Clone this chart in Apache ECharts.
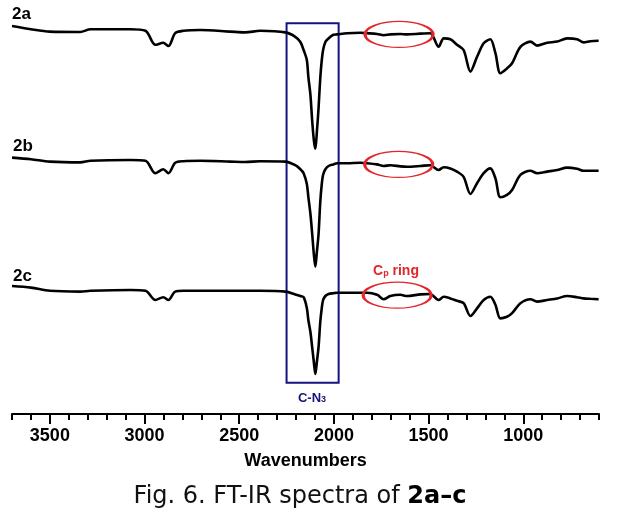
<!DOCTYPE html>
<html>
<head>
<meta charset="utf-8">
<script src="https://cdn.jsdelivr.net/npm/echarts@6/dist/echarts.min.js"></script>
<style>html,body{margin:0;padding:0;background:#fff;}#c{width:620px;height:524px;}</style>
</head>
<body>
<div id="c"></div>
<script>
// Wavenumbers (cm-1) sampled along the spectra
const wn = [3700,3600,3500,3340,3285,3075,2995,2943,2901,2874,2838,2795,2706,2547,2468,2389,2256,2204,2177,2160,2143,2135,2124,2115,2106,2098,2090,2081,2072,2064,2057,2045,2028,2003,1983,1931,1860,1825,1772,1737,1702,1649,1614,1543,1491,1447,1420,1385,1350,1315,1279,1244,1209,1174,1147,1121,1086,1059,1015,962,927,874,821,768,716,681,646,602];
// Offset transmittance (a.u.) for each compound
const spec2a = [97.0,96.2,95.6,95.5,96.2,96.2,95.8,92.3,92.8,92.0,95.2,95.8,96.0,95.6,95.4,95.8,95.4,94.3,93.0,91.0,88.5,84.3,79.8,73.5,68.5,66.3,70.5,76.5,84.0,88.5,91.0,93.0,93.9,94.8,94.9,95.2,95.3,95.2,95.0,94.7,94.9,95.0,94.9,95.1,95.2,91.8,93.9,93.7,92.3,91.0,85.6,89.3,92.7,93.7,90.2,85.2,86.4,87.7,91.8,93.1,92.1,92.8,93.1,93.9,93.7,92.9,93.2,93.3];
const spec2b = [64.1,63.7,63.1,62.9,63.3,63.5,63.3,60.2,61.2,60.2,62.8,63.2,63.3,63.1,63.0,63.2,63.1,62.2,61.2,60.2,57.5,54.3,50.0,45.2,40.0,36.8,40.5,45.0,53.0,57.5,59.8,61.2,62.0,62.4,62.7,62.7,62.8,62.7,62.4,62.0,62.2,61.9,61.8,62.0,62.2,61.0,61.7,61.4,60.6,59.3,55.0,57.7,60.2,61.4,58.9,54.2,54.8,56.0,59.8,60.8,60.2,60.6,61.0,61.6,61.3,60.8,60.8,60.8];
const spec2c = [32.0,31.6,30.8,30.6,30.8,31.0,30.8,28.5,29.2,28.5,30.6,30.8,30.8,30.8,30.8,30.8,30.6,29.9,29.5,29.2,26.5,23.5,20.5,16.8,13.0,10.0,13.0,16.8,23.0,26.5,28.5,29.5,30.0,30.2,30.3,30.3,30.3,30.3,29.8,28.7,29.5,29.8,29.5,29.9,30.0,28.5,29.3,28.9,28.3,27.7,24.5,26.4,28.5,29.3,27.3,23.9,24.3,25.2,27.7,28.7,28.1,28.5,28.9,29.5,29.2,28.9,28.8,28.7];
const seriesNames = ['2a','2b','2c'];
const majorTicks = [3500,3000,2500,2000,1500,1000];
const minorTicks = [3700,3600,3500,3400,3300,3200,3100,3000,2900,2800,2700,2600,2500,2400,2300,2200,2100,2000,1900,1800,1700,1600,1500,1400,1300,1200,1100,1000,900,800,700,600];
// Annotation regions (data units)
const azideBand = [2250, 1975];
const azideBandY = [97.7, 7.8];
const cpRing = [[1656, 94.9],[1658, 62.4],[1666, 29.7]];

const pair = arr => wn.map((w,i)=>[w, arr[i]]);
const chart = echarts.init(document.getElementById('c'), null, {renderer:'canvas'});
const lineStyle = {color:'#000', width:2.6};
const ellipse = (pt) => ({
  symbol:'circle', symbolSize:[68,26], silent:true, label:{show:false},
  itemStyle:{color:'rgba(0,0,0,0)', borderColor:'#e3262b', borderWidth:2},
  data:[{coord:pt}]
});
const mkSeries = (i, arr, extra) => Object.assign({
  name:seriesNames[i], type:'line', data:pair(arr), showSymbol:false, smooth:0.3,
  lineStyle:lineStyle, xAxisIndex:0, markPoint:ellipse(cpRing[i])
}, extra || {});
chart.setOption({
  animation:false,
  grid:{left:12, right:21, top:0, bottom:110, containLabel:false},
  xAxis:[{
    type:'value', inverse:true, min:600, max:3700, position:'bottom',
    axisLine:{show:true, lineStyle:{color:'#000', width:2}},
    axisTick:{show:true, inside:false, length:10, lineStyle:{color:'#000', width:2}, customValues:majorTicks},
    axisLabel:{show:true, customValues:majorTicks, formatter:v=>String(v), margin:13, color:'#000', fontSize:18, fontWeight:'bold', fontFamily:'Liberation Sans, Arial, sans-serif'},
    splitLine:{show:false},
    name:'Wavenumbers', nameLocation:'middle', nameGap:38,
    nameTextStyle:{color:'#000', fontSize:18, fontWeight:'bold', fontFamily:'Liberation Sans, Arial, sans-serif'}
  },{
    type:'value', inverse:true, min:600, max:3700, position:'bottom',
    axisLine:{show:false},
    axisTick:{show:true, length:6, lineStyle:{color:'#000', width:2}, customValues:minorTicks},
    axisLabel:{show:false}, splitLine:{show:false}
  }],
  yAxis:{type:'value', min:0, max:103.5, show:false},
  series:[
    mkSeries(0, spec2a, {markArea:{silent:true, itemStyle:{color:'rgba(0,0,0,0)', borderColor:'#14147f', borderWidth:2},
       data:[[{xAxis:azideBand[0], yAxis:azideBandY[0]},{xAxis:azideBand[1], yAxis:azideBandY[1]}]]}}),
    mkSeries(1, spec2b),
    mkSeries(2, spec2c)
  ],
  graphic:[
    {type:'text', left:12, top:6, style:{text:seriesNames[0], font:'bold 17px "Liberation Sans", Arial', fill:'#000'}},
    {type:'text', left:13, top:138, style:{text:seriesNames[1], font:'bold 17px "Liberation Sans", Arial', fill:'#000'}},
    {type:'text', left:13, top:268, style:{text:seriesNames[2], font:'bold 17px "Liberation Sans", Arial', fill:'#000'}},
    {type:'text', x:312, y:398, style:{text:'{a|C-N}{s|3}', align:'center', verticalAlign:'middle',
      rich:{a:{font:'bold 13px "Liberation Sans", Arial', fill:'#14147f', verticalAlign:'bottom'}, s:{font:'bold 9px "Liberation Sans", Arial', fill:'#14147f', verticalAlign:'bottom'}}}},
    {type:'text', x:396, y:271, style:{text:'{a|C}{s|p}{a| ring}', align:'center', verticalAlign:'middle',
      rich:{a:{font:'bold 14px "Liberation Sans", Arial', fill:'#e3262b', verticalAlign:'bottom'}, s:{font:'bold 9px "Liberation Sans", Arial', fill:'#e3262b', verticalAlign:'bottom'}}}},
    {type:'text', x:300, y:497, style:{text:'{n|Fig. 6. FT-IR spectra of }{b|2a\u2013c}', align:'center', verticalAlign:'middle',
      rich:{n:{font:'24px "DejaVu Sans", sans-serif', fill:'#111'}, b:{font:'bold 24px "DejaVu Sans", sans-serif', fill:'#000'}}}}
  ]
});
</script>
</body>
</html>
